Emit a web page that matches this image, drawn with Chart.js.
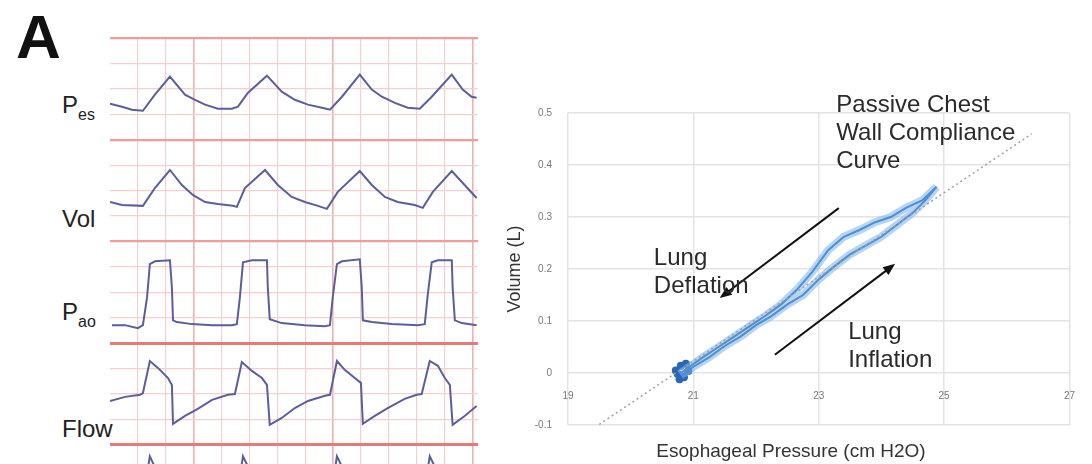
<!DOCTYPE html>
<html>
<head>
<meta charset="utf-8">
<script src="https://cdn.jsdelivr.net/npm/chart.js@4.4.1/dist/chart.umd.min.js"></script>
<style>
  body { margin: 0; background: #fff; width: 1092px; height: 464px; overflow: hidden; position: relative;
         font-family: 'Liberation Sans', Arial, sans-serif; }
  #traces { position: absolute; left: 0; top: 0; }
  #loop { position: absolute; left: 490px; top: 60px; }
  .lbl { position: absolute; left: 62px; font-size: 24px; line-height: 24px; color: #222; }
  .lbl span { font-size: 16px; position: relative; top: 7px; }
  #panel { position: absolute; left: 16px; top: 6px; font: bold 62px/62px 'Liberation Sans', Arial, sans-serif; color: #111; }
  #xtitle { position: absolute; left: 560px; width: 462px; top: 441px; text-align: center;
            font-size: 19px; line-height: 19px; color: #333; }
</style>
</head>
<body>
<div id="panel">A</div>
<div class="lbl" style="top:93px">P<span>es</span></div>
<div class="lbl" style="top:207px">Vol</div>
<div class="lbl" style="top:300px">P<span>ao</span></div>
<div class="lbl" style="top:417px">Flow</div>
<canvas id="traces" width="490" height="464"></canvas>
<canvas id="loop" width="602" height="404"></canvas>
<div id="xtitle">Esophageal Pressure (cm H2O)</div>
<script>
// ventilator traces, x in grid divisions, y in divisions above the bottom of each band
const pesX = [0.00, 0.43, 0.79, 1.18, 1.61, 2.15, 2.69, 3.05, 3.41, 3.87, 4.37, 4.59, 4.95, 5.63, 6.16, 6.63, 7.10, 7.60, 7.89, 8.32, 8.96, 9.39, 9.75, 10.22, 10.68, 11.11, 11.54, 12.26, 12.65, 12.97, 13.15];
const pesY = [1.42, 1.30, 1.18, 1.14, 1.77, 2.48, 1.77, 1.57, 1.38, 1.22, 1.22, 1.30, 1.85, 2.52, 1.89, 1.57, 1.38, 1.26, 1.18, 1.69, 2.56, 1.97, 1.69, 1.45, 1.26, 1.22, 1.69, 2.56, 1.97, 1.69, 1.65];

const volX = [0.00, 0.43, 1.18, 1.61, 2.15, 2.58, 2.97, 3.41, 3.87, 4.41, 4.55, 4.84, 5.56, 6.02, 6.52, 6.99, 7.46, 7.78, 8.17, 8.96, 9.39, 9.86, 10.32, 10.93, 11.22, 11.58, 12.26, 12.72, 13.15];
const volY = [1.55, 1.43, 1.40, 2.10, 2.81, 2.22, 1.83, 1.55, 1.47, 1.40, 1.36, 2.10, 2.81, 2.22, 1.75, 1.55, 1.40, 1.28, 1.95, 2.77, 2.22, 1.75, 1.55, 1.43, 1.32, 1.95, 2.77, 2.22, 1.71];

const paoX = [0.07, 0.54, 1.00, 1.18, 1.33, 1.43, 1.61, 2.15, 2.22, 2.26, 2.40, 2.94, 3.66, 4.37, 4.55, 4.66, 4.77, 5.09, 5.63, 5.66, 5.73, 6.16, 6.99, 7.71, 7.89, 7.99, 8.14, 8.32, 8.96, 9.03, 9.07, 9.39, 10.11, 11.04, 11.29, 11.40, 11.54, 11.76, 12.26, 12.29, 12.37, 12.62, 13.15];
const paoY = [0.71, 0.71, 0.59, 0.71, 1.81, 3.11, 3.22, 3.26, 2.20, 0.90, 0.83, 0.75, 0.71, 0.71, 0.75, 1.81, 3.18, 3.26, 3.26, 2.20, 0.94, 0.79, 0.71, 0.67, 0.71, 1.81, 3.11, 3.22, 3.30, 2.20, 0.90, 0.83, 0.75, 0.71, 0.75, 1.93, 3.18, 3.26, 3.26, 2.20, 0.90, 0.79, 0.71];

const flowX = [0.00, 0.54, 1.08, 1.18, 1.43, 1.72, 2.08, 2.22, 2.26, 2.69, 3.15, 3.66, 4.23, 4.48, 4.73, 5.09, 5.45, 5.63, 5.73, 6.16, 6.63, 7.10, 7.71, 7.89, 8.14, 8.42, 8.78, 9.00, 9.07, 9.50, 9.96, 10.57, 11.00, 11.18, 11.47, 11.76, 12.01, 12.19, 12.29, 12.72, 13.15];
const flowY = [1.73, 1.89, 1.97, 2.04, 3.30, 3.03, 2.63, 2.36, 0.83, 1.14, 1.42, 1.77, 1.97, 2.00, 3.26, 2.91, 2.63, 2.36, 0.79, 1.06, 1.45, 1.73, 1.93, 1.97, 3.30, 2.95, 2.63, 2.44, 0.83, 1.14, 1.45, 1.81, 1.97, 2.00, 3.30, 3.11, 2.63, 2.36, 0.79, 1.14, 1.53];

// tops of the next trace, cut off by the bottom edge
const nextX = [1.32, 1.43, 1.60, null, 4.66, 4.77, 4.95, null, 8.03, 8.14, 8.32, null, 11.36, 11.47, 11.65];
const nextY = [2.80, 3.55, 3.15, null, 2.80, 3.55, 3.15, null, 2.80, 3.55, 3.15, null, 2.80, 3.55, 3.15];

// band bottoms, four divisions per band
const traceNames = ['Pes', 'Vol', 'Pao', 'Flow', 'next'];
const bandBase = [12, 8, 4, 0, -4];

// pressure-volume loop (cm H2O, L)
const compX = [19.3, 26.4];
const compY = [-0.115, 0.46];
const inflX = [20.80, 21.00, 21.25, 21.50, 21.75, 22.00, 22.25, 22.50, 22.75, 23.00, 23.25, 23.50, 23.75, 24.00, 24.25, 24.50, 24.70, 24.88];
const inflY = [-0.005, 0.012, 0.030, 0.052, 0.070, 0.092, 0.110, 0.132, 0.150, 0.180, 0.205, 0.228, 0.245, 0.262, 0.285, 0.308, 0.332, 0.358];
const deflX = [24.88, 24.65, 24.40, 24.15, 23.90, 23.65, 23.40, 23.15, 22.90, 22.65, 22.40, 22.15, 21.90, 21.65, 21.40, 21.15, 20.95, 20.80];
const deflY = [0.358, 0.332, 0.318, 0.300, 0.290, 0.275, 0.262, 0.236, 0.195, 0.160, 0.132, 0.110, 0.090, 0.070, 0.050, 0.030, 0.013, 0.000];
const clusterX = [20.72, 20.78, 20.85, 20.92, 20.80, 20.88, 20.75];
const clusterY = [0.005, -0.012, -0.008, 0.004, 0.014, 0.018, -0.002];

const arrows = [
  { x: [23.32, 21.42], y: [0.317, 0.144] },
  { x: [22.30, 24.22], y: [0.035, 0.210] }
];
const notes = [
  { x: 23.28, y: 0.502, lines: ['Passive Chest', 'Wall Compliance', 'Curve'] },
  { x: 20.37, y: 0.208, lines: ['Lung', 'Deflation'] },
  { x: 23.47, y: 0.065, lines: ['Lung', 'Inflation'] }
];

const xs = [pesX, volX, paoX, flowX, nextX];
const ys = [pesY, volY, paoY, flowY, nextY];

function pts(xArr, yArr, offset) {
  return xArr.map((v, i) => ({ x: v, y: yArr[i] === null ? null : yArr[i] + (offset || 0) }));
}

const traceColor = '#5b5e9c';

new Chart(document.getElementById('traces'), {
  type: 'scatter',
  data: {
    datasets: traceNames.map((name, k) => ({
      label: name,
      data: pts(xs[k], ys[k], bandBase[k]),
      showLine: true,
      spanGaps: false,
      borderColor: traceColor,
      borderWidth: 2,
      pointRadius: 0
    }))
  },
  options: {
    responsive: false,
    animation: false,
    layout: { padding: { left: 110, top: 38, right: 12, bottom: 0 } },
    plugins: { legend: { display: false }, tooltip: { enabled: false } },
    scales: {
      x: {
        type: 'linear', min: 0, max: 13.2,
        afterBuildTicks: s => { s.ticks = Array.from({ length: 13 }, (_, i) => ({ value: i + 1 })); },
        ticks: { display: false },
        border: { display: false },
        grid: {
          drawTicks: false,
          color: c => (c.tick.value % 5 === 3 ? '#efb0b0' : '#f5cfcf'),
          lineWidth: c => (c.tick.value % 5 === 3 ? 1.6 : 1.2)
        }
      },
      y: {
        type: 'linear', min: -0.75, max: 16,
        afterBuildTicks: s => { s.ticks = Array.from({ length: 17 }, (_, i) => ({ value: i })); },
        ticks: { display: false },
        border: { display: false },
        grid: {
          drawTicks: false,
          color: c => {
            const v = c.tick.value;
            if (v % 4 !== 0) return '#f5cfcf';
            return v <= 4 ? '#e57a7a' : '#ee9c9c';
          },
          lineWidth: c => {
            const v = c.tick.value;
            if (v % 4 !== 0) return 1.2;
            return v <= 4 ? 3 : 2.2;
          }
        }
      }
    }
  }
});

// arrows and text notes over the loop
const notesPlugin = {
  id: 'loopNotes',
  afterDatasetsDraw(chart) {
    const { ctx } = chart;
    const sx = chart.scales.x, sy = chart.scales.y;
    ctx.save();
    ctx.strokeStyle = '#111';
    ctx.fillStyle = '#111';
    ctx.lineWidth = 2;
    arrows.forEach(a => {
      const x1 = sx.getPixelForValue(a.x[0]), y1 = sy.getPixelForValue(a.y[0]);
      const x2 = sx.getPixelForValue(a.x[1]), y2 = sy.getPixelForValue(a.y[1]);
      const ang = Math.atan2(y2 - y1, x2 - x1);
      ctx.beginPath();
      ctx.moveTo(x1, y1);
      ctx.lineTo(x2 - 8 * Math.cos(ang), y2 - 8 * Math.sin(ang));
      ctx.stroke();
      ctx.beginPath();
      ctx.moveTo(x2, y2);
      ctx.lineTo(x2 - 13 * Math.cos(ang - 0.38), y2 - 13 * Math.sin(ang - 0.38));
      ctx.lineTo(x2 - 13 * Math.cos(ang + 0.38), y2 - 13 * Math.sin(ang + 0.38));
      ctx.closePath();
      ctx.fill();
    });
    ctx.font = '24px "Liberation Sans", Arial, sans-serif';
    ctx.fillStyle = '#2a2a2a';
    ctx.textBaseline = 'alphabetic';
    notes.forEach(n => {
      const px = sx.getPixelForValue(n.x), py = sy.getPixelForValue(n.y);
      n.lines.forEach((t, i) => ctx.fillText(t, px, py + i * 28));
    });
    ctx.restore();
  }
};

const loopData = pts(inflX.concat(deflX), inflY.concat(deflY));
const tickFont = { family: "'Liberation Sans', Arial, sans-serif", size: 10 };

new Chart(document.getElementById('loop'), {
  type: 'scatter',
  data: {
    datasets: [
      {
        label: 'Compliance',
        data: pts(compX, compY),
        showLine: true,
        borderColor: '#a0a0a0',
        borderDash: [2, 3],
        borderWidth: 1.5,
        pointRadius: 0
      },
      {
        label: 'Loop halo',
        data: loopData,
        showLine: true,
        borderColor: 'rgba(118,178,235,0.55)',
        borderWidth: 8,
        pointRadius: 0
      },
      {
        label: 'Loop',
        data: loopData,
        showLine: true,
        borderColor: '#2460ad',
        borderWidth: 2,
        pointRadius: 0
      },
      {
        label: 'End expiration',
        data: pts(clusterX, clusterY),
        showLine: false,
        pointRadius: 4,
        pointBorderWidth: 0,
        backgroundColor: '#2a66b8'
      }
    ]
  },
  options: {
    responsive: false,
    animation: false,
    layout: { padding: { left: 14, top: 53, right: 15, bottom: 39 } },
    plugins: { legend: { display: false }, tooltip: { enabled: false } },
    scales: {
      x: {
        type: 'linear', min: 19, max: 27,
        position: { y: 0 },
        ticks: { stepSize: 2, padding: 17, color: '#777', font: tickFont },
        border: { display: false },
        grid: { drawTicks: false, color: '#e4e4e4', lineWidth: 1.5 }
      },
      y: {
        type: 'linear', min: -0.1, max: 0.5,
        afterFit: s => { s.width = 64; },
        ticks: {
          stepSize: 0.1, padding: 16, color: '#777', font: tickFont,
          callback: v => (Math.abs(v) < 1e-9 ? '0' : String(Math.round(v * 10) / 10))
        },
        border: { display: false },
        grid: { drawTicks: false, color: '#e4e4e4', lineWidth: 1.5 },
        title: {
          display: true,
          text: 'Volume (L)',
          color: '#333',
          padding: 0,
          font: { family: "'Liberation Sans', Arial, sans-serif", size: 18 }
        }
      }
    }
  },
  plugins: [notesPlugin]
});
</script>
</body>
</html>
